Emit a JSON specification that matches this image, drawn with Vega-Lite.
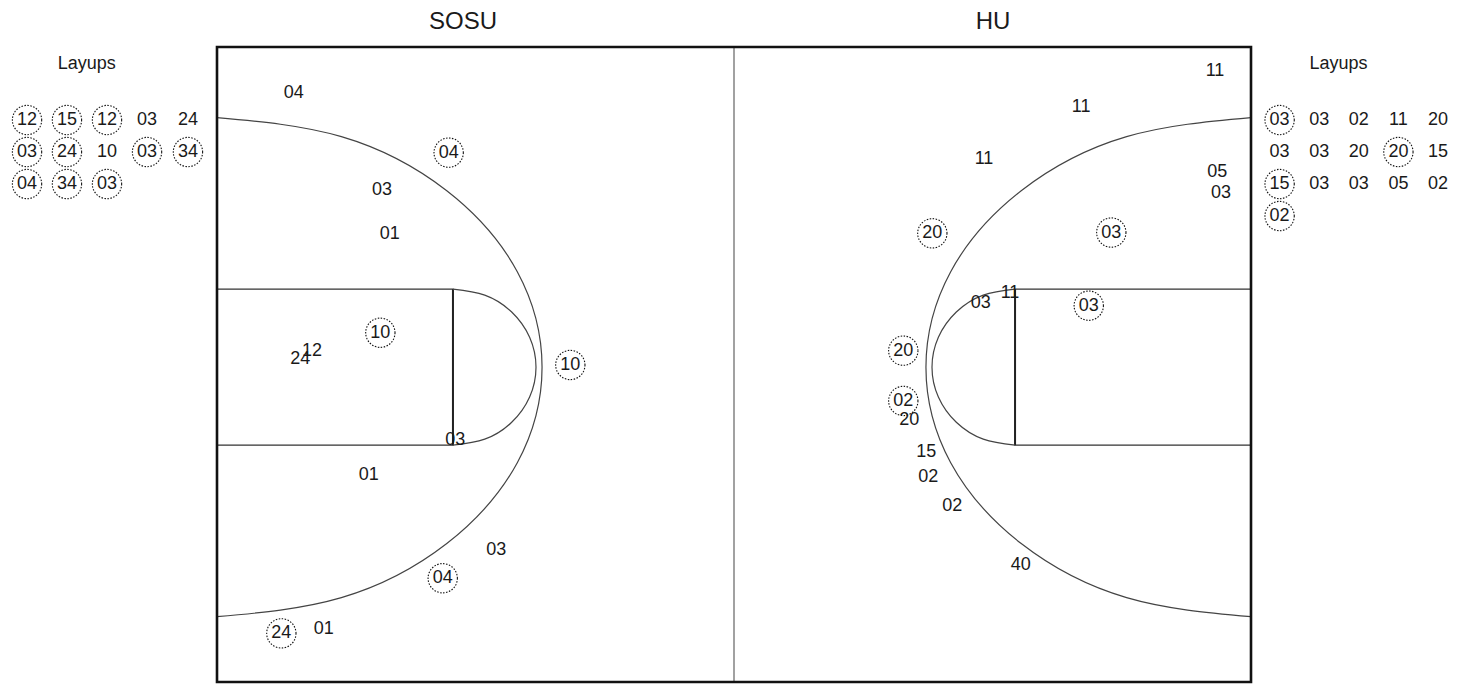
{
  "$schema": "https://vega.github.io/schema/vega-lite/v6.json",
  "width": 1034,
  "height": 635,
  "autosize": {"type": "none"},
  "padding": {"left": 217, "top": 47, "right": 222, "bottom": 3},
  "background": "white",
  "config": {"view": {"stroke": null}, "axis": {"disable": true}, "legend": {"disable": true}},
  "datasets": {
    "border": [{"x": 0, "x2": 94, "y": 0, "y2": 50}],
    "lanes": [
      {"side": "SOSU", "x": 0, "x2": 21.45, "y": 18.65, "y2": 30.93},
      {"side": "HU", "x": 72.55, "x2": 94, "y": 18.65, "y2": 30.93}
    ],
    "midline": [{"x": 47, "y": 0, "y2": 50}],
    "ftlines": [
      {"x": 21.45, "y": 18.65, "y2": 30.93},
      {"x": 72.55, "y": 18.65, "y2": 30.93}
    ],
    "arcs": [
      {"part": "L3", "i": 0, "x": 0, "y": 44.44},
      {"part": "L3", "i": 1, "x": 11.31, "y": 42.94},
      {"part": "L3", "i": 2, "x": 20.89, "y": 38.68},
      {"part": "L3", "i": 3, "x": 27.30, "y": 32.31},
      {"part": "L3", "i": 4, "x": 29.55, "y": 24.79},
      {"part": "L3", "i": 5, "x": 27.30, "y": 17.27},
      {"part": "L3", "i": 6, "x": 20.89, "y": 10.90},
      {"part": "L3", "i": 7, "x": 11.31, "y": 6.64},
      {"part": "L3", "i": 8, "x": 0, "y": 5.14},
      {"part": "R3", "i": 0, "x": 94, "y": 44.44},
      {"part": "R3", "i": 1, "x": 82.69, "y": 42.94},
      {"part": "R3", "i": 2, "x": 73.11, "y": 38.68},
      {"part": "R3", "i": 3, "x": 66.70, "y": 32.31},
      {"part": "R3", "i": 4, "x": 64.45, "y": 24.79},
      {"part": "R3", "i": 5, "x": 66.70, "y": 17.27},
      {"part": "R3", "i": 6, "x": 73.11, "y": 10.90},
      {"part": "R3", "i": 7, "x": 82.69, "y": 6.64},
      {"part": "R3", "i": 8, "x": 94, "y": 5.14},
      {"part": "LF", "i": 0, "x": 21.45, "y": 30.93},
      {"part": "LF", "i": 1, "x": 24.34, "y": 30.46},
      {"part": "LF", "i": 2, "x": 26.79, "y": 29.13},
      {"part": "LF", "i": 3, "x": 28.42, "y": 27.14},
      {"part": "LF", "i": 4, "x": 29.0, "y": 24.79},
      {"part": "LF", "i": 5, "x": 28.42, "y": 22.44},
      {"part": "LF", "i": 6, "x": 26.79, "y": 20.45},
      {"part": "LF", "i": 7, "x": 24.34, "y": 19.12},
      {"part": "LF", "i": 8, "x": 21.45, "y": 18.65},
      {"part": "RF", "i": 0, "x": 72.55, "y": 30.93},
      {"part": "RF", "i": 1, "x": 69.66, "y": 30.46},
      {"part": "RF", "i": 2, "x": 67.21, "y": 29.13},
      {"part": "RF", "i": 3, "x": 65.58, "y": 27.14},
      {"part": "RF", "i": 4, "x": 65.0, "y": 24.79},
      {"part": "RF", "i": 5, "x": 65.58, "y": 22.44},
      {"part": "RF", "i": 6, "x": 67.21, "y": 20.45},
      {"part": "RF", "i": 7, "x": 69.66, "y": 19.12},
      {"part": "RF", "i": 8, "x": 72.55, "y": 18.65}
    ],
    "shots": [
      {"team": "SOSU", "kind": "court", "label": "04", "made": false, "x": 6.97, "y": 46.40},
      {"team": "SOSU", "kind": "court", "label": "04", "made": true, "x": 21.06, "y": 41.68},
      {"team": "SOSU", "kind": "court", "label": "03", "made": false, "x": 15.0, "y": 38.74},
      {"team": "SOSU", "kind": "court", "label": "01", "made": false, "x": 15.70, "y": 35.25},
      {"team": "SOSU", "kind": "court", "label": "10", "made": true, "x": 14.85, "y": 27.50},
      {"team": "SOSU", "kind": "court", "label": "12", "made": false, "x": 8.64, "y": 26.09},
      {"team": "SOSU", "kind": "court", "label": "24", "made": false, "x": 7.57, "y": 25.41},
      {"team": "SOSU", "kind": "court", "label": "10", "made": true, "x": 32.12, "y": 24.96},
      {"team": "SOSU", "kind": "court", "label": "03", "made": false, "x": 21.66, "y": 19.06},
      {"team": "SOSU", "kind": "court", "label": "01", "made": false, "x": 13.79, "y": 16.30},
      {"team": "SOSU", "kind": "court", "label": "03", "made": false, "x": 25.39, "y": 10.39},
      {"team": "SOSU", "kind": "court", "label": "04", "made": true, "x": 20.52, "y": 8.17},
      {"team": "SOSU", "kind": "court", "label": "24", "made": true, "x": 5.85, "y": 3.83},
      {"team": "SOSU", "kind": "court", "label": "01", "made": false, "x": 9.70, "y": 4.17},
      {"team": "HU", "kind": "court", "label": "11", "made": false, "x": 90.73, "y": 48.13},
      {"team": "HU", "kind": "court", "label": "11", "made": false, "x": 78.55, "y": 45.30},
      {"team": "HU", "kind": "court", "label": "11", "made": false, "x": 69.73, "y": 41.16},
      {"team": "HU", "kind": "court", "label": "05", "made": false, "x": 90.94, "y": 40.13},
      {"team": "HU", "kind": "court", "label": "03", "made": false, "x": 91.27, "y": 38.53},
      {"team": "HU", "kind": "court", "label": "20", "made": true, "x": 65.03, "y": 35.33},
      {"team": "HU", "kind": "court", "label": "03", "made": true, "x": 81.30, "y": 35.39},
      {"team": "HU", "kind": "court", "label": "11", "made": false, "x": 72.09, "y": 30.61},
      {"team": "HU", "kind": "court", "label": "03", "made": false, "x": 69.43, "y": 29.82},
      {"team": "HU", "kind": "court", "label": "03", "made": true, "x": 79.25, "y": 29.63},
      {"team": "HU", "kind": "court", "label": "20", "made": true, "x": 62.39, "y": 26.09},
      {"team": "HU", "kind": "court", "label": "02", "made": true, "x": 62.39, "y": 22.13},
      {"team": "HU", "kind": "court", "label": "20", "made": false, "x": 62.94, "y": 20.63},
      {"team": "HU", "kind": "court", "label": "15", "made": false, "x": 64.48, "y": 18.13},
      {"team": "HU", "kind": "court", "label": "02", "made": false, "x": 64.66, "y": 16.12},
      {"team": "HU", "kind": "court", "label": "02", "made": false, "x": 66.85, "y": 13.86},
      {"team": "HU", "kind": "court", "label": "40", "made": false, "x": 73.06, "y": 9.21},
      {"team": "SOSU", "kind": "layup", "label": "12", "made": true, "x": -17.27, "y": 44.25},
      {"team": "SOSU", "kind": "layup", "label": "15", "made": true, "x": -13.64, "y": 44.25},
      {"team": "SOSU", "kind": "layup", "label": "12", "made": true, "x": -10.0, "y": 44.25},
      {"team": "SOSU", "kind": "layup", "label": "03", "made": false, "x": -6.36, "y": 44.25},
      {"team": "SOSU", "kind": "layup", "label": "24", "made": false, "x": -2.64, "y": 44.25},
      {"team": "SOSU", "kind": "layup", "label": "03", "made": true, "x": -17.27, "y": 41.73},
      {"team": "SOSU", "kind": "layup", "label": "24", "made": true, "x": -13.64, "y": 41.73},
      {"team": "SOSU", "kind": "layup", "label": "10", "made": false, "x": -10.0, "y": 41.73},
      {"team": "SOSU", "kind": "layup", "label": "03", "made": true, "x": -6.36, "y": 41.73},
      {"team": "SOSU", "kind": "layup", "label": "34", "made": true, "x": -2.64, "y": 41.73},
      {"team": "SOSU", "kind": "layup", "label": "04", "made": true, "x": -17.27, "y": 39.21},
      {"team": "SOSU", "kind": "layup", "label": "34", "made": true, "x": -13.64, "y": 39.21},
      {"team": "SOSU", "kind": "layup", "label": "03", "made": true, "x": -10.0, "y": 39.21},
      {"team": "HU", "kind": "layup", "label": "03", "made": true, "x": 96.6, "y": 44.25},
      {"team": "HU", "kind": "layup", "label": "03", "made": false, "x": 100.2, "y": 44.25},
      {"team": "HU", "kind": "layup", "label": "02", "made": false, "x": 103.8, "y": 44.25},
      {"team": "HU", "kind": "layup", "label": "11", "made": false, "x": 107.4, "y": 44.25},
      {"team": "HU", "kind": "layup", "label": "20", "made": false, "x": 111.0, "y": 44.25},
      {"team": "HU", "kind": "layup", "label": "03", "made": false, "x": 96.6, "y": 41.73},
      {"team": "HU", "kind": "layup", "label": "03", "made": false, "x": 100.2, "y": 41.73},
      {"team": "HU", "kind": "layup", "label": "20", "made": false, "x": 103.8, "y": 41.73},
      {"team": "HU", "kind": "layup", "label": "20", "made": true, "x": 107.4, "y": 41.73},
      {"team": "HU", "kind": "layup", "label": "15", "made": false, "x": 111.0, "y": 41.73},
      {"team": "HU", "kind": "layup", "label": "15", "made": true, "x": 96.6, "y": 39.21},
      {"team": "HU", "kind": "layup", "label": "03", "made": false, "x": 100.2, "y": 39.21},
      {"team": "HU", "kind": "layup", "label": "03", "made": false, "x": 103.8, "y": 39.21},
      {"team": "HU", "kind": "layup", "label": "05", "made": false, "x": 107.4, "y": 39.21},
      {"team": "HU", "kind": "layup", "label": "02", "made": false, "x": 111.0, "y": 39.21},
      {"team": "HU", "kind": "layup", "label": "02", "made": true, "x": 96.6, "y": 36.69}
    ],
    "headings": [
      {"text": "Layups", "x": -11.85, "y": 48.7},
      {"text": "Layups", "x": 101.95, "y": 48.7}
    ],
    "titles": [
      {"text": "SOSU", "x": 22.36, "y": 51.97},
      {"text": "HU", "x": 70.55, "y": 51.97}
    ]
  },
  "layer": [
    {
      "data": {"name": "lanes"},
      "mark": {"type": "rect", "filled": false, "color": "#333", "strokeWidth": 1.2},
      "encoding": {
        "x": {"field": "x", "type": "quantitative", "scale": {"domain": [0, 94], "nice": false, "zero": false}},
        "x2": {"field": "x2"},
        "y": {"field": "y", "type": "quantitative", "scale": {"domain": [0, 50], "nice": false, "zero": false}},
        "y2": {"field": "y2"}
      }
    },
    {
      "data": {"name": "midline"},
      "mark": {"type": "rule", "color": "#8a8a8a", "strokeWidth": 1.6},
      "encoding": {
        "x": {"field": "x", "type": "quantitative"},
        "y": {"field": "y", "type": "quantitative"},
        "y2": {"field": "y2"}
      }
    },
    {
      "data": {"name": "ftlines"},
      "mark": {"type": "rule", "color": "#222", "strokeWidth": 2},
      "encoding": {
        "x": {"field": "x", "type": "quantitative"},
        "y": {"field": "y", "type": "quantitative"},
        "y2": {"field": "y2"}
      }
    },
    {
      "data": {"name": "arcs"},
      "mark": {"type": "line", "color": "#444", "strokeWidth": 1.2, "interpolate": "natural"},
      "encoding": {
        "x": {"field": "x", "type": "quantitative"},
        "y": {"field": "y", "type": "quantitative"},
        "detail": {"field": "part"},
        "order": {"field": "i", "type": "quantitative"}
      }
    },
    {
      "data": {"name": "border"},
      "mark": {"type": "rect", "filled": false, "color": "#111", "strokeWidth": 2.6},
      "encoding": {
        "x": {"field": "x", "type": "quantitative"},
        "x2": {"field": "x2"},
        "y": {"field": "y", "type": "quantitative"},
        "y2": {"field": "y2"}
      }
    },
    {
      "data": {"name": "shots"},
      "transform": [{"filter": "datum.made"}],
      "mark": {"type": "point", "shape": "circle", "filled": false, "color": "#111", "strokeWidth": 1.1, "strokeDash": [1.5, 1.5], "size": 860, "opacity": 1},
      "encoding": {
        "x": {"field": "x", "type": "quantitative"},
        "y": {"field": "y", "type": "quantitative"}
      }
    },
    {
      "data": {"name": "shots"},
      "mark": {"type": "text", "font": "Liberation Sans", "fontSize": 18, "color": "#1a1a1a", "align": "center", "baseline": "middle"},
      "encoding": {
        "x": {"field": "x", "type": "quantitative"},
        "y": {"field": "y", "type": "quantitative"},
        "text": {"field": "label"}
      }
    },
    {
      "data": {"name": "headings"},
      "mark": {"type": "text", "font": "Liberation Sans", "fontSize": 18, "color": "#1a1a1a", "align": "center", "baseline": "middle"},
      "encoding": {
        "x": {"field": "x", "type": "quantitative"},
        "y": {"field": "y", "type": "quantitative"},
        "text": {"field": "text"}
      }
    },
    {
      "data": {"name": "titles"},
      "mark": {"type": "text", "font": "Liberation Sans", "fontSize": 24, "color": "#1a1a1a", "align": "center", "baseline": "middle"},
      "encoding": {
        "x": {"field": "x", "type": "quantitative"},
        "y": {"field": "y", "type": "quantitative"},
        "text": {"field": "text"}
      }
    }
  ]
}
